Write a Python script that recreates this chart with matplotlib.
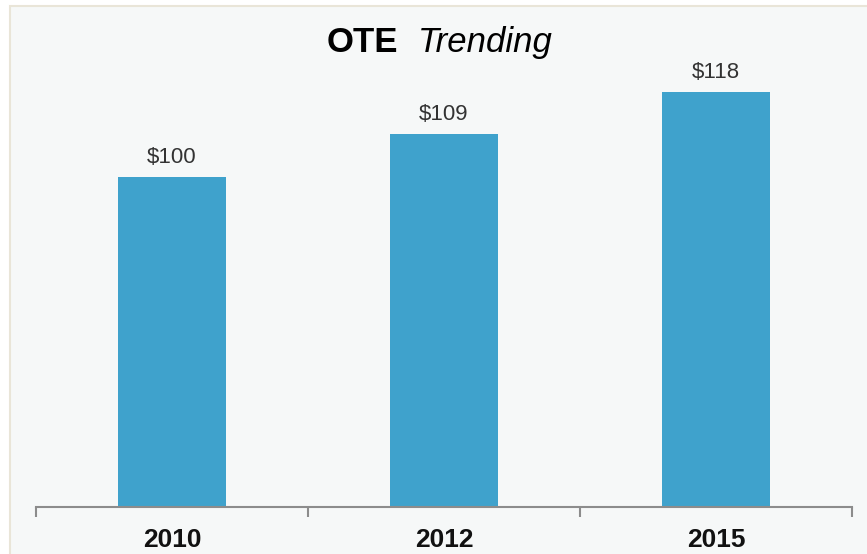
import matplotlib
matplotlib.use("Agg")
import matplotlib.pyplot as plt
from matplotlib.patches import Rectangle

# data
years = ["2010", "2012", "2015"]
ote = [100, 109, 118]
value_labels = ["$100", "$109", "$118"]

W, H = 867, 554
plt.rcParams['font.family'] = ['Liberation Sans', 'DejaVu Sans']

fig = plt.figure(figsize=(W / 100, H / 100), dpi=100)
fig.patch.set_facecolor("white")

# light panel with a thin beige frame (right/bottom edges run off the image)
panel = Rectangle((10 / W, -0.1), 1.1, 1.1 - 6 / H, transform=fig.transFigure,
                  facecolor="#f6f8f8", edgecolor="#e9e5d8", linewidth=1.5, zorder=0)
fig.patches.append(panel)

ax = fig.add_axes([36 / W, 1 - 507 / H, (852 - 36) / W, (507 - 60) / H])
ax.set_zorder(2)
ax.set_facecolor("none")

x = list(range(len(years)))
ax.bar(x, ote, width=0.4, color="#3fa2cc", zorder=2)
ax.set_xlim(-0.5, len(years) - 0.5)
ax.set_ylim(30, 124.7)

for xi, v, lab in zip(x, ote, value_labels):
    ax.annotate(lab, (xi, v), xytext=(0, 10), textcoords="offset points",
                ha="center", va="baseline", fontsize=16, color="#333333")

for s in ["top", "right", "left"]:
    ax.spines[s].set_visible(False)
ax.spines["bottom"].set_color("#8c8c8c")
ax.spines["bottom"].set_linewidth(1.5)
ax.set_yticks([])

# boundary ticks, labels at category centres
ax.set_xticks([i - 0.5 for i in range(len(years) + 1)])
ax.set_xticklabels([])
ax.tick_params(axis="x", which="major", length=7.5, width=1.5, color="#8c8c8c", direction="out")
ax.set_xticks(x, minor=True)
ax.set_xticklabels(years, minor=True, fontsize=19, fontweight="bold", color="#111111")
ax.tick_params(axis="x", which="minor", length=0, pad=15)

# title: bold + italic parts
fig.text(398 / W, 1 - 52 / H, "OTE", ha="right", va="baseline",
         fontsize=25, fontweight="bold", color="black")
fig.text(418 / W, 1 - 52 / H, "Trending", ha="left", va="baseline",
         fontsize=25, style="italic", color="black")

fig.savefig("out.png", dpi=100)
